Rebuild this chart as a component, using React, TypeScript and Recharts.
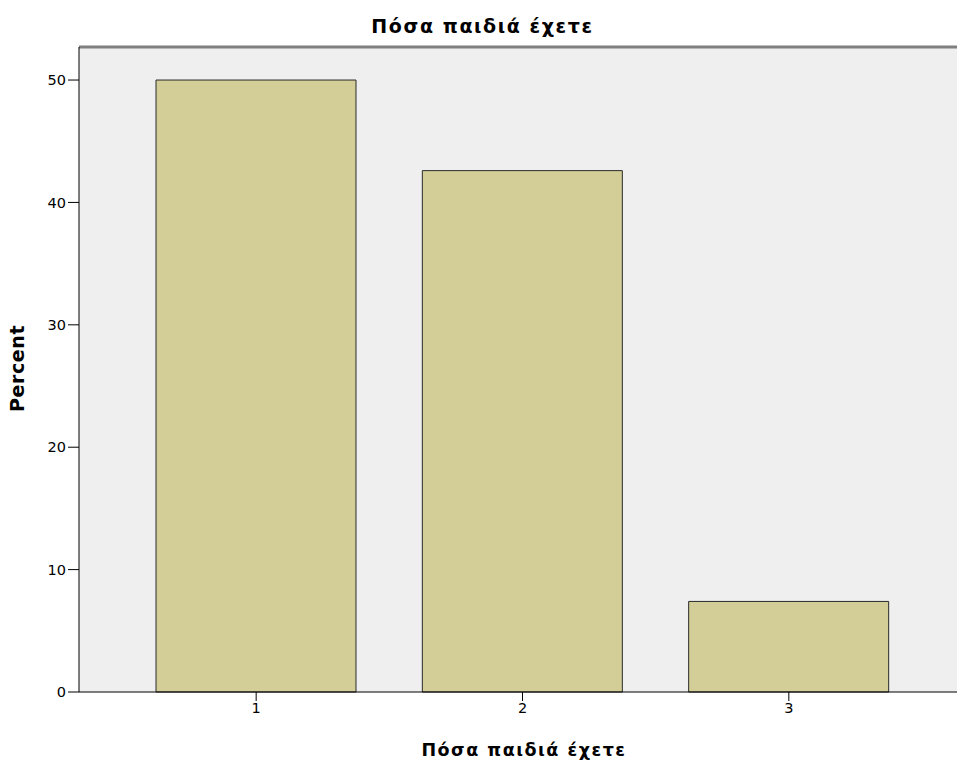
import { BarChart, Bar, XAxis, YAxis, CartesianGrid, ReferenceLine } from 'recharts';

const categories = ['1', '2', '3'];
const percents = [50, 42.6, 7.4];
const yTicks = [0, 10, 20, 30, 40, 50];

const data = categories.map((c, i) => ({ name: c, percent: percents[i] }));

const font = '"DejaVu Sans", Verdana, sans-serif';

export default function App() {
  return (
    <div style={{ position: 'absolute', left: 0, top: 0, width: 957, height: 765, background: '#fff', fontFamily: font }}>
      <div
        style={{
          position: 'absolute',
          left: 4,
          top: 15,
          width: 957,
          textAlign: 'center',
          fontSize: 19,
          fontWeight: 'bold',
          letterSpacing: 1.6,
          color: '#000',
        }}
      >
        Πόσα παιδιά έχετε
      </div>
      <BarChart width={957} height={765} data={data} margin={{ top: 47, right: 0, left: 0, bottom: 0 }}>
        <CartesianGrid horizontal={false} vertical={false} fill="#efefef" />
        <XAxis
          dataKey="name"
          height={73}
          padding={{ left: 44, right: 35 }}
          tickSize={9}
          tick={{ fill: '#000', fontSize: 14.5, fontFamily: font }}
          tickLine={{ stroke: '#000' }}
          axisLine={{ stroke: '#000' }}
          label={{ value: 'Πόσα παιδιά έχετε', position: 'center', dx: 6, dy: 21, fill: '#000', fontSize: 17.5, fontWeight: 'bold', fontFamily: font, letterSpacing: 1.5 }}
        />
        <YAxis
          width={79}
          domain={[0, 52.7]}
          ticks={yTicks}
          tickSize={11}
          tick={{ fill: '#000', fontSize: 14.5, fontFamily: font }}
          tickLine={{ stroke: '#000' }}
          axisLine={{ stroke: '#000' }}
          label={{ value: 'Percent', angle: -90, position: 'center', dx: -22, dy: -1, fill: '#000', fontSize: 19, fontWeight: 'bold', fontFamily: font, letterSpacing: 0.6 }}
        />
        <ReferenceLine y={52.7} stroke="#7f7f7f" strokeWidth={3} />
        <Bar dataKey="percent" fill="#d3ce97" stroke="#2a2a2a" strokeWidth={1} barSize={200} isAnimationActive={false} />
      </BarChart>
    </div>
  );
}
